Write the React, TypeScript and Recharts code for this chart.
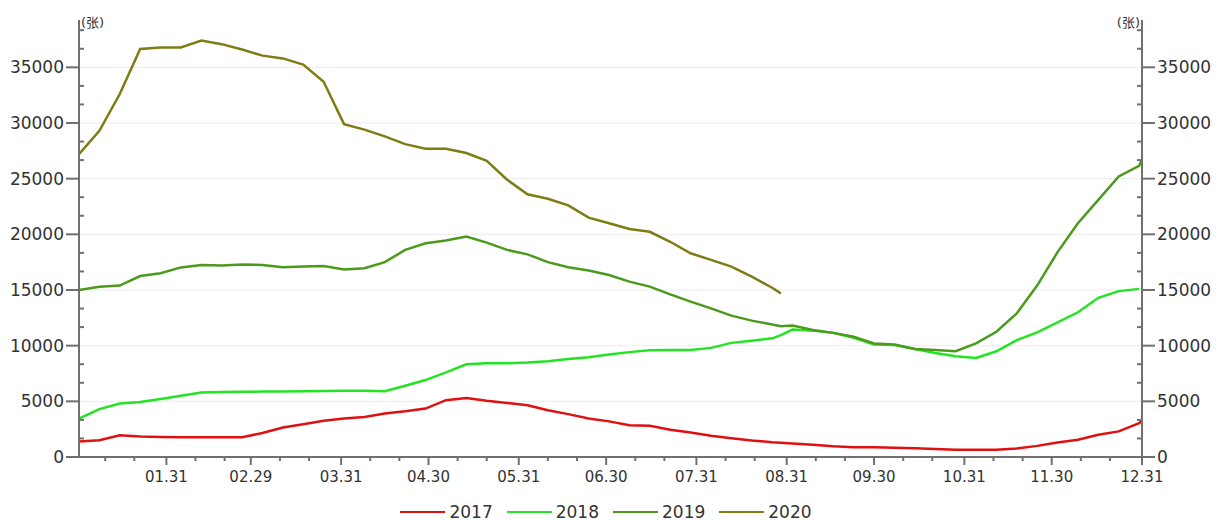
import { LineChart, Line, XAxis, YAxis, CartesianGrid, Legend } from "recharts";

// day of year (2020, leap year)
const days = [
  1, 8, 15, 22, 29, 36, 43, 50, 57, 64,
  71, 78, 85, 92, 99, 106, 113, 120, 127, 134,
  141, 148, 155, 162, 169, 176, 183, 190, 197, 204,
  211, 218, 225, 232, 239, 242,
  246, 253, 260, 267, 274, 281, 288, 295, 302, 309,
  316, 323, 330, 337, 344, 351, 358, 365, 366,
];

const s2017 = [
  1400, 1500, 1950, 1850, 1800, 1780, 1770, 1770, 1780, 2150,
  2650, 2950, 3250, 3450, 3600, 3900, 4100, 4350, 5100, 5300,
  5050, 4850, 4650, 4200, 3850, 3450, 3200, 2850, 2800, 2450,
  2200, 1900, 1680, 1480, 1330, 1290,
  1220, 1100, 960, 880, 870, 820, 780, 720, 650, 640,
  660, 760, 1000, 1300, 1550, 2000, 2300, 3050, 3250,
];

const s2018 = [
  3450, 4300, 4800, 4950, 5200, 5500, 5800, 5830, 5850, 5880,
  5880, 5900, 5930, 5950, 5950, 5900, 6400, 6910, 7600, 8330,
  8420, 8420, 8480, 8600, 8800, 8950, 9200, 9420, 9580, 9620,
  9620, 9800, 10250, 10450, 10660, 10950,
  11450, 11350, 11150, 10700, 10100, 10050, 9700, 9350, 9050, 8900,
  9500, 10500, 11200, 12100, 13000, 14300, 14900, 15100, null,
];

const s2019 = [
  15000, 15300, 15400, 16250, 16500, 17030, 17240, 17200, 17280, 17250,
  17050, 17100, 17150, 16850, 16950, 17500, 18600, 19200, 19450, 19800,
  19250, 18600, 18200, 17500, 17050, 16750, 16350, 15750, 15300, 14600,
  13950, 13350, 12700, 12250, 11900, 11750,
  11800, 11400, 11150, 10800, 10200, 10100, 9700, 9600, 9500, 10200,
  11250, 12900, 15400, 18400, 21000, 23100, 25200, 26150, 26700,
];

const s2020 = [
  27200, 29300, 32600, 36650, 36790, 36790, 37400, 37080, 36600, 36050,
  35800, 35250, 33700, 29900, 29400, 28800, 28100, 27690, 27690, 27300,
  26600, 24900, 23600, 23200, 22600, 21500, 21000, 20480, 20230, 19330,
  18300, 17700, 17100, 16200, 15200, 14700,
  null, null, null, null, null, null, null, null, null, null,
  null, null, null, null, null, null, null, null, null,
];

const monthEnds = [31, 60, 91, 121, 152, 182, 213, 244, 274, 305, 335, 366];
const monthLabels = ["01.31", "02.29", "03.31", "04.30", "05.31", "06.30", "07.31", "08.31", "09.30", "10.31", "11.30", "12.31"];
// small ticks on the 10th and 20th of each month
const minorDays = monthEnds.flatMap((end, i) => {
  const start = i === 0 ? 0 : monthEnds[i - 1];
  return [start + 10, start + 20];
});
const xTicks = [...minorDays, ...monthEnds].sort((a, b) => a - b);

const yMajor = [0, 5000, 10000, 15000, 20000, 25000, 30000, 35000];
const yTicks = yMajor.flatMap((v) => [v, v + 5000 / 3, v + 10000 / 3]);

const seriesInfo = [
  { key: "y2017", name: "2017", color: "#e01010" },
  { key: "y2018", name: "2018", color: "#22e422" },
  { key: "y2019", name: "2019", color: "#4b9a1c" },
  { key: "y2020", name: "2020", color: "#7e7c12" },
];

const data = days.map((day, i) => ({
  day,
  y2017: s2017[i],
  y2018: s2018[i],
  y2019: s2019[i],
  y2020: s2020[i],
}));

const axisColor = "#707070";
const textColor = "#333";
const font = "'DejaVu Sans', 'Noto Sans CJK SC', sans-serif";

const XTick = (props: any) => {
  const { x, y, payload } = props;
  const idx = monthEnds.indexOf(payload.value);
  const major = idx >= 0;
  return (
    <g>
      <line x1={x} x2={x} y1={y} y2={y + (major ? 8 : 4)} stroke={axisColor} strokeWidth={2} />
      {major && (
        <text x={x} y={y + 25} textAnchor="middle" fontSize={15} fill={textColor} fontFamily={font}>
          {monthLabels[idx]}
        </text>
      )}
    </g>
  );
};

const YTick = (props: any) => {
  const { x, y, payload, side } = props;
  const v = Math.round(payload.value);
  const major = v % 5000 === 0;
  const dir = side === "left" ? -1 : 1;
  if (!major) {
    return <line x1={x} x2={x - dir * 5} y1={y} y2={y} stroke={axisColor} strokeWidth={2} />;
  }
  return (
    <g>
      <line x1={x} x2={x + dir * 13} y1={y} y2={y} stroke={axisColor} strokeWidth={2} />
      <text
        x={x + dir * 15}
        y={y}
        dy="0.36em"
        textAnchor={side === "left" ? "end" : "start"}
        fontSize={17}
        fill={textColor}
        fontFamily={font}
      >
        {v}
      </text>
    </g>
  );
};

const UnitLabel = (props: any) => {
  const { viewBox, side } = props;
  const x = side === "left" ? viewBox.x + viewBox.width + 2 : viewBox.x - 2;
  return (
    <text x={x} y={viewBox.y + 7} textAnchor={side === "left" ? "start" : "end"} fontSize={13} fill={textColor} fontFamily={font}>
      (张)
    </text>
  );
};

const LegendContent = () => (
  <div style={{ display: "flex", justifyContent: "center", alignItems: "center", height: 28, paddingTop: 6, paddingLeft: 6 }}>
    {seriesInfo.map((s) => (
      <div key={s.key} style={{ display: "flex", alignItems: "center", marginRight: 14 }}>
        <div style={{ width: 45, height: 2.5, background: s.color, marginRight: 4 }} />
        <span style={{ fontSize: 17, color: textColor, fontFamily: font }}>{s.name}</span>
      </div>
    ))}
  </div>
);

export default function App() {
  return (
    <div style={{ position: "absolute", left: 0, top: 0, background: "#fff" }}>
      <LineChart width={1220} height={520} data={data} margin={{ top: 20, right: 0, left: 0, bottom: 0 }}>
        <CartesianGrid horizontal vertical={false} stroke="#ececec" horizontalValues={yMajor.slice(1)} />
        <XAxis
          dataKey="day"
          type="number"
          domain={[1, 366]}
          ticks={xTicks}
          interval={0}
          tickSize={0}
          tickMargin={0}
          height={35}
          allowDataOverflow
          axisLine={{ stroke: axisColor, strokeWidth: 2 }}
          tick={(p: any) => <XTick {...p} />}
        />
        <YAxis
          type="number"
          domain={[0, 39250]}
          ticks={yTicks}
          interval={0}
          tickSize={0}
          tickMargin={0}
          width={79}
          allowDataOverflow
          axisLine={{ stroke: axisColor, strokeWidth: 2 }}
          tick={(p: any) => <YTick {...p} side="left" />}
          label={{ content: (p: any) => <UnitLabel {...p} side="left" /> }}
        />
        <YAxis
          yAxisId="right"
          orientation="right"
          type="number"
          domain={[0, 39250]}
          ticks={yTicks}
          interval={0}
          tickSize={0}
          tickMargin={0}
          width={78}
          allowDataOverflow
          axisLine={{ stroke: axisColor, strokeWidth: 2 }}
          tick={(p: any) => <YTick {...p} side="right" />}
          label={{ content: (p: any) => <UnitLabel {...p} side="right" /> }}
        />
        <Legend verticalAlign="bottom" height={28} content={() => <LegendContent />} />
        {seriesInfo.map((s) => (
          <Line
            key={s.key}
            type="linear"
            dataKey={s.key}
            name={s.name}
            stroke={s.color}
            strokeWidth={2.5}
            dot={false}
            connectNulls={false}
            isAnimationActive={false}
          />
        ))}
      </LineChart>
    </div>
  );
}
